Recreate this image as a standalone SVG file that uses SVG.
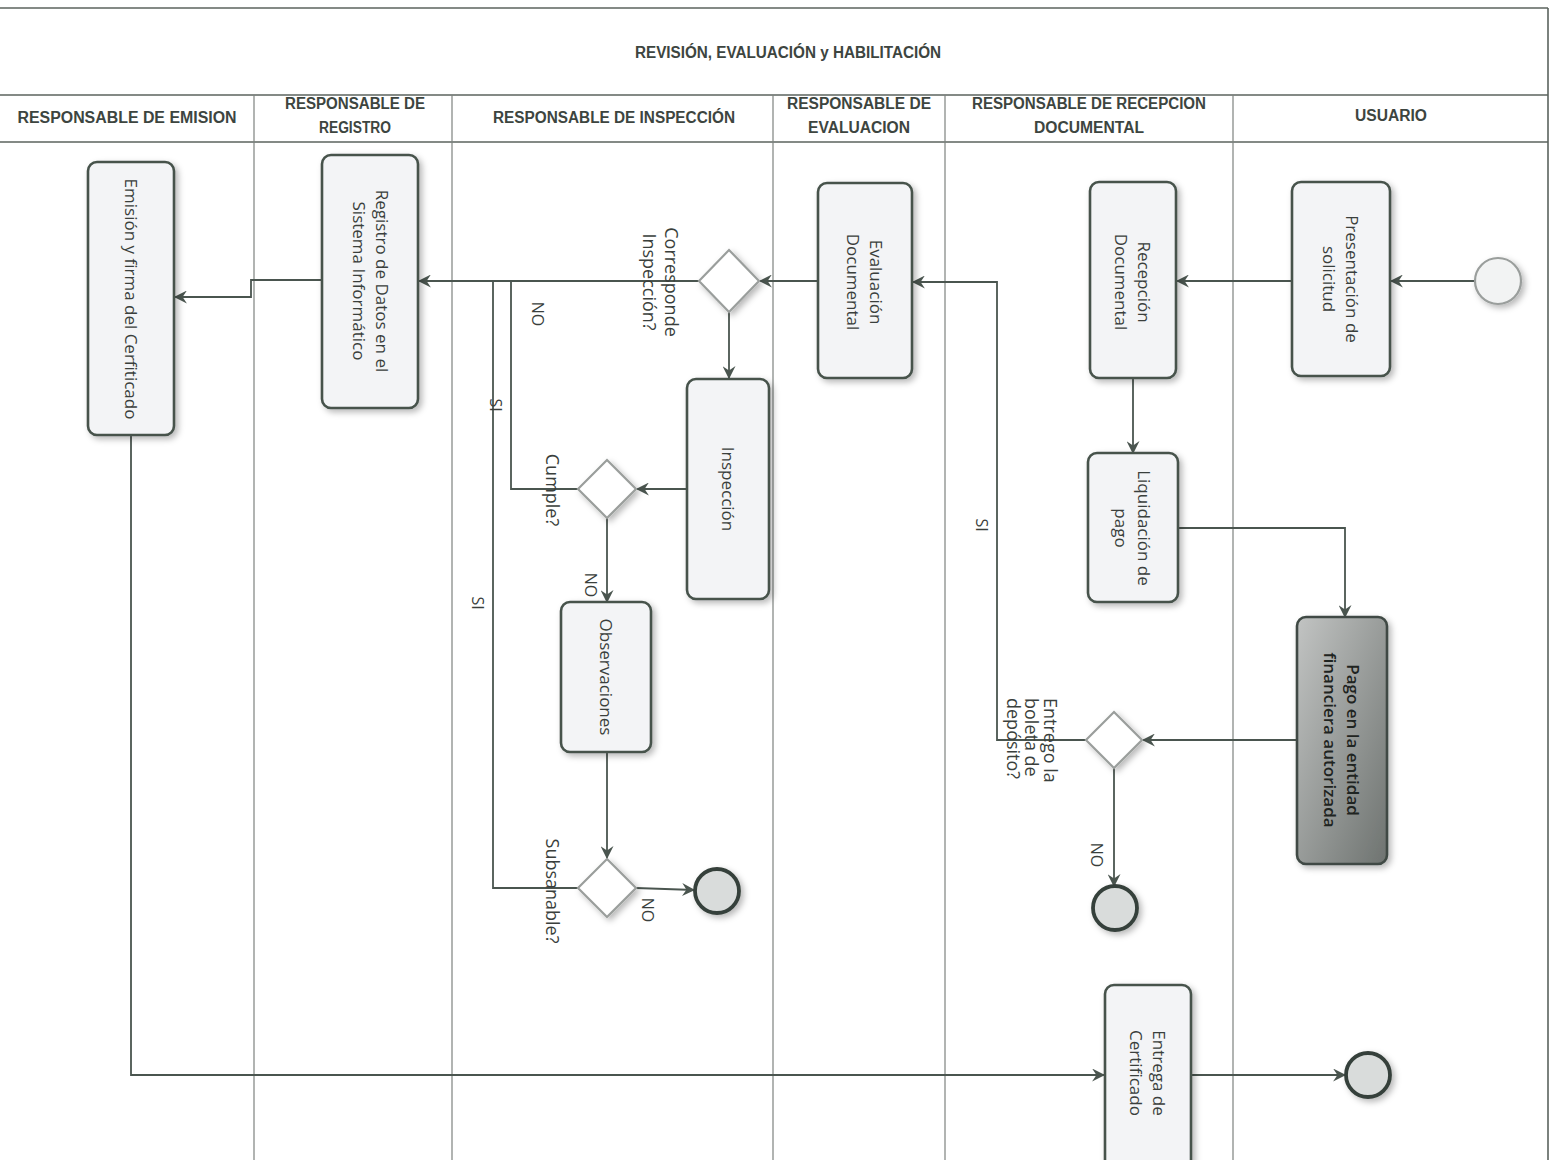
<svg xmlns="http://www.w3.org/2000/svg" width="1558" height="1160" viewBox="0 0 1558 1160">
<defs>
<style>
.frame{stroke:#5b635e;stroke-width:1.6;fill:none}
.lane{stroke:#7d827f;stroke-width:1.2;fill:none}
.hdr{font-family:"Liberation Sans",Arial,sans-serif;font-weight:bold;font-size:16px;fill:#3d4540;text-anchor:middle}
.task{fill:#f3f4f6;stroke:#46524b;stroke-width:2.6}
.dark{fill:url(#pg);stroke:#3f4a44;stroke-width:2.6}
.dia{fill:#ffffff;stroke:#9a9e9c;stroke-width:2.2}
.ntxt{font-family:"Open Sans","Noto Sans",sans-serif;font-size:17px;fill:#3a3f3c;text-anchor:middle;dominant-baseline:central}
.lbl{font-family:"Open Sans","Noto Sans",sans-serif;font-size:18px;fill:#3a3f3c;dominant-baseline:central}
.elbl{font-family:"Open Sans","Noto Sans",sans-serif;font-size:16px;fill:#3a3f3c;text-anchor:middle;dominant-baseline:central}
.conn{stroke:#4a554f;stroke-width:1.8;fill:none;marker-end:url(#arr)}
.plain{stroke:#4a554f;stroke-width:1.8;fill:none}
.endc{fill:#d9dcdb;stroke:#36413b;stroke-width:3.8}
.startc{fill:#f2f3f3;stroke:#9a9e9c;stroke-width:2.2}
</style>
<marker id="arr" viewBox="0 0 12 12" refX="11" refY="6" markerWidth="13" markerHeight="13" markerUnits="userSpaceOnUse" orient="auto">
<path d="M0,0 L12,6 L0,12 L4,6 Z" fill="#4a554f"/>
</marker>
<filter id="sh" x="-20%" y="-20%" width="150%" height="150%">
<feDropShadow dx="3" dy="3" stdDeviation="3" flood-color="#000" flood-opacity="0.28"/>
</filter>
<linearGradient id="pg" x1="0" y1="0" x2="1" y2="1">
<stop offset="0" stop-color="#c2c4c3"/>
<stop offset="1" stop-color="#6e7370"/>
</linearGradient>
</defs>
<rect width="1558" height="1160" fill="#ffffff"/>

<g id="frame">
<line class="frame" x1="0" y1="8" x2="1548" y2="8"/>
<line class="frame" x1="1548" y1="8" x2="1548" y2="1160"/>
<line class="frame" x1="0" y1="95" x2="1548" y2="95"/>
<line class="frame" x1="0" y1="142" x2="1548" y2="142"/>
<line class="lane" x1="254" y1="95" x2="254" y2="1160"/>
<line class="lane" x1="452" y1="95" x2="452" y2="1160"/>
<line class="lane" x1="773" y1="95" x2="773" y2="1160"/>
<line class="lane" x1="945" y1="95" x2="945" y2="1160"/>
<line class="lane" x1="1233" y1="95" x2="1233" y2="1160"/>
<text class="hdr" x="788" y="58" textLength="306" lengthAdjust="spacingAndGlyphs">REVISIÓN,  EVALUACIÓN y HABILITACIÓN</text>
<text class="hdr" x="127" y="123" textLength="219" lengthAdjust="spacingAndGlyphs">RESPONSABLE DE EMISION</text>
<text class="hdr" x="355" y="109" textLength="140" lengthAdjust="spacingAndGlyphs">RESPONSABLE DE</text>
<text class="hdr" x="355" y="133" textLength="72" lengthAdjust="spacingAndGlyphs">REGISTRO</text>
<text class="hdr" x="614" y="123" textLength="242" lengthAdjust="spacingAndGlyphs">RESPONSABLE DE INSPECCIÓN</text>
<text class="hdr" x="859" y="109" textLength="144" lengthAdjust="spacingAndGlyphs">RESPONSABLE  DE</text>
<text class="hdr" x="859" y="133" textLength="102" lengthAdjust="spacingAndGlyphs">EVALUACION</text>
<text class="hdr" x="1089" y="109" textLength="234" lengthAdjust="spacingAndGlyphs">RESPONSABLE DE RECEPCION</text>
<text class="hdr" x="1089" y="133" textLength="110" lengthAdjust="spacingAndGlyphs">DOCUMENTAL</text>
<text class="hdr" x="1391" y="121" textLength="72" lengthAdjust="spacingAndGlyphs">USUARIO</text>
</g>

<g id="connectors">
<line class="conn" x1="1475" y1="281" x2="1391" y2="281"/>
<line class="conn" x1="1292" y1="281" x2="1177" y2="281"/>
<line class="conn" x1="1133" y1="378" x2="1133" y2="453"/>
<polyline class="conn" points="1178,528 1345,528 1345,617"/>
<line class="conn" x1="1297" y1="740" x2="1143" y2="740"/>
<line class="conn" x1="1114" y1="768" x2="1114" y2="886"/>
<polyline class="conn" points="1086,740 997,740 997,282 913,282"/>
<line class="conn" x1="818" y1="281" x2="760" y2="281"/>
<line class="conn" x1="729" y1="312" x2="729" y2="378"/>
<line class="conn" x1="699" y1="281" x2="419" y2="281"/>
<line class="conn" x1="687" y1="489" x2="637" y2="489"/>
<polyline class="plain" points="578,489 511,489 511,282"/>
<line class="conn" x1="607" y1="518" x2="607" y2="602"/>
<line class="conn" x1="607" y1="752" x2="607" y2="858"/>
<polyline class="plain" points="578,888 493,888 493,282"/>
<line class="conn" x1="636" y1="888" x2="694" y2="890"/>
<polyline class="conn" points="322,280 251,280 251,297 175,297"/>
<polyline class="conn" points="131,435 131,1075 1104,1075"/>
<line class="conn" x1="1191" y1="1075" x2="1345" y2="1075"/>
<text class="elbl" transform="translate(538,314) rotate(90)">NO</text>
<text class="elbl" transform="translate(496,405) rotate(90)">SI</text>
<text class="elbl" transform="translate(591,585) rotate(90)">NO</text>
<text class="elbl" transform="translate(478,603) rotate(90)">SI</text>
<text class="elbl" transform="translate(648,910) rotate(90)">NO</text>
<text class="elbl" transform="translate(982,525) rotate(90)">SI</text>
<text class="elbl" transform="translate(1097,855) rotate(90)">NO</text>
</g>

<g id="n-emision">
<rect class="task" x="88" y="162" width="86" height="273" rx="9" filter="url(#sh)"/>
<text class="ntxt" transform="translate(131,299) rotate(90)">Emisión y firma del Cerfiticado</text>
</g>
<g id="n-registro">
<rect class="task" x="322" y="155" width="96" height="253" rx="9" filter="url(#sh)"/>
<text class="ntxt" transform="translate(371,281) rotate(90)"><tspan x="0" y="-11.5">Registro de Datos en el</tspan><tspan x="0" y="11.5">Sistema Informático</tspan></text>
</g>
<g id="n-evaluacion">
<rect class="task" x="818" y="183" width="94" height="195" rx="9" filter="url(#sh)"/>
<text class="ntxt" transform="translate(865,282) rotate(90)"><tspan x="0" y="-11.5">Evaluación</tspan><tspan x="0" y="11.5">Documental</tspan></text>
</g>
<g id="n-recepcion">
<rect class="task" x="1090" y="182" width="86" height="196" rx="9" filter="url(#sh)"/>
<text class="ntxt" transform="translate(1133,282) rotate(90)"><tspan x="0" y="-11.5">Recepción</tspan><tspan x="0" y="11.5">Documental</tspan></text>
</g>
<g id="n-presentacion">
<rect class="task" x="1292" y="182" width="98" height="194" rx="9" filter="url(#sh)"/>
<text class="ntxt" transform="translate(1341,279) rotate(90)"><tspan x="0" y="-11.5">Presentación de</tspan><tspan x="0" y="11.5">solicitud</tspan></text>
</g>
<g id="n-inspeccion">
<rect class="task" x="687" y="379" width="82" height="220" rx="9" filter="url(#sh)"/>
<text class="ntxt" transform="translate(728,489) rotate(90)">Inspección</text>
</g>
<g id="n-liquidacion">
<rect class="task" x="1088" y="453" width="90" height="149" rx="9" filter="url(#sh)"/>
<text class="ntxt" transform="translate(1133,528) rotate(90)"><tspan x="0" y="-11.5">Liquidación de</tspan><tspan x="0" y="11.5">pago</tspan></text>
</g>
<g id="n-observaciones">
<rect class="task" x="561" y="602" width="90" height="150" rx="9" filter="url(#sh)"/>
<text class="ntxt" transform="translate(606,677) rotate(90)">Observaciones</text>
</g>
<g id="n-pago">
<rect class="dark" x="1297" y="617" width="90" height="247" rx="9" filter="url(#sh)"/>
<text class="ntxt" style="fill:#1f2421;font-weight:600" transform="translate(1342,740) rotate(90)"><tspan x="0" y="-11.5">Pago en la entidad</tspan><tspan x="0" y="11.5">financiera autorizada</tspan></text>
</g>
<g id="n-entrega">
<rect class="task" x="1105" y="985" width="86" height="190" rx="9" filter="url(#sh)"/>
<text class="ntxt" transform="translate(1148,1073) rotate(90)"><tspan x="0" y="-11.5">Entrega de</tspan><tspan x="0" y="11.5">Certificado</tspan></text>
</g>

<g id="d-corresponde">
<polygon class="dia" points="729,250 759,281 729,312 699,281" filter="url(#sh)"/>
<text class="lbl" text-anchor="middle" transform="translate(661,282) rotate(90)"><tspan x="0" y="-11">Corresponde</tspan><tspan x="0" y="11">Inspección?</tspan></text>
</g>
<g id="d-cumple">
<polygon class="dia" points="607,460 636,489 607,518 578,489" filter="url(#sh)"/>
<text class="lbl" text-anchor="middle" transform="translate(553,490) rotate(90)">Cumple?</text>
</g>
<g id="d-subsanable">
<polygon class="dia" points="607,859 636,888 607,917 578,888" filter="url(#sh)"/>
<text class="lbl" text-anchor="middle" transform="translate(553,891) rotate(90)">Subsanable?</text>
</g>
<g id="d-entrego">
<polygon class="dia" points="1114,712 1142,740 1114,768 1086,740" filter="url(#sh)"/>
<text class="lbl" text-anchor="start" transform="translate(1032,698) rotate(90)"><tspan x="0" y="-18.5">Entrego la</tspan><tspan x="0" y="0">boleta de</tspan><tspan x="0" y="18.5">depósito?</tspan></text>
</g>

<g id="e-start">
<circle class="startc" cx="1498" cy="281" r="23" filter="url(#sh)"/>
</g>
<g id="e-end1">
<circle class="endc" cx="717" cy="891" r="22" filter="url(#sh)"/>
</g>
<g id="e-end2">
<circle class="endc" cx="1115" cy="908" r="22" filter="url(#sh)"/>
</g>
<g id="e-end3">
<circle class="endc" cx="1368" cy="1075" r="22" filter="url(#sh)"/>
</g>
</svg>
